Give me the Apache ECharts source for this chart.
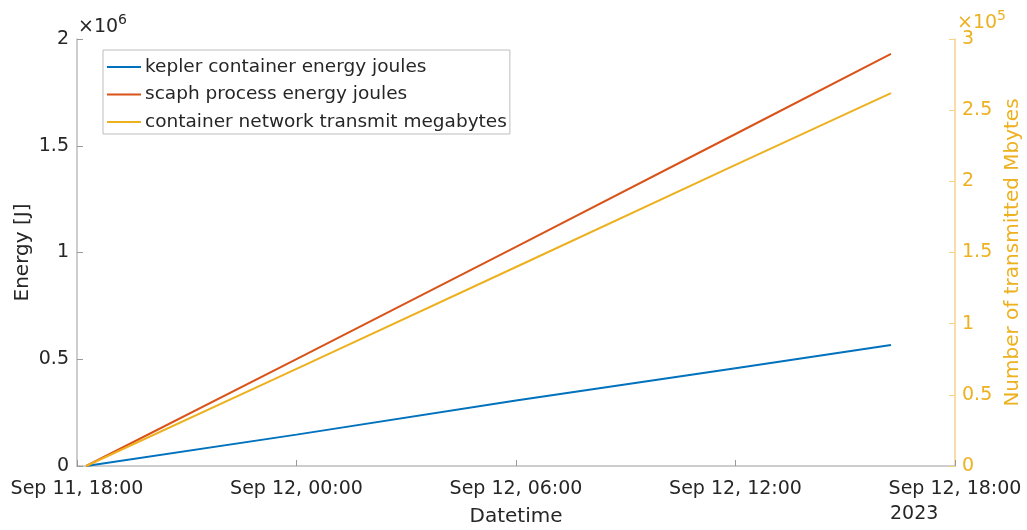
<!DOCTYPE html>
<html>
<head>
<meta charset="utf-8">
<script src="https://cdn.jsdelivr.net/npm/echarts@6/dist/echarts.min.js"></script>
<style>html,body{margin:0;padding:0;background:#fff;}#c{width:1027px;height:530px;}</style>
</head>
<body>
<div id="c"></div>
<script>
// ---- data ----
var times = ['2023-09-11T18:15', '2023-09-12T00:00', '2023-09-12T06:00', '2023-09-12T12:00', '2023-09-12T16:15'];
var keplerJoules = [0, 147000, 307000, 458000, 567000];
var scaphJoules = [0, 501000, 1026000, 1555000, 1930000];
var networkMB = [0, 68200, 139800, 211600, 262000];
var leftTicks = ['0', '0.5', '1', '1.5', '2'];
var rightTicks = ['0', '0.5', '1', '1.5', '2', '2.5', '3'];
var seriesNames = ['kepler container energy joules', 'scaph process energy joules', 'container network transmit megabytes'];

function ts(s) {
  var d = s.split('T'), a = d[0].split('-'), b = d[1].split(':');
  return Date.UTC(+a[0], +a[1] - 1, +a[2], +b[0], +b[1]);
}
var H = 3600 * 1000;
var xMin = Date.UTC(2023, 8, 11, 18, 0);
var xMax = Date.UTC(2023, 8, 12, 18, 0);
var months = ['Jan','Feb','Mar','Apr','May','Jun','Jul','Aug','Sep','Oct','Nov','Dec'];
function pad(n) { return (n < 10 ? '0' : '') + n; }
function fmt(v) {
  var d = new Date(v);
  return months[d.getUTCMonth()] + ' ' + d.getUTCDate() + ', ' + pad(d.getUTCHours()) + ':' + pad(d.getUTCMinutes());
}
function pairs(vals) { return times.map(function (t, i) { return [ts(t), vals[i]]; }); }

var FONT = 'DejaVu Sans';
var TXT = '#262626';
var GRAY = '#bdbdbd';
var YEL = '#EDB120';
var YEL_LINE = '#f4d389';

var chart = echarts.init(document.getElementById('c'), null, { renderer: 'canvas' });
chart.setOption({
  animation: false,
  backgroundColor: '#ffffff',
  textStyle: { fontFamily: FONT },
  grid: { left: 77, right: 72, top: 39, bottom: 64, containLabel: false, outerBoundsMode: 'none' },
  legend: {
    orient: 'vertical',
    left: 103, top: 50,
    padding: [7, 3, 2, 4],
    itemGap: 7.5,
    itemWidth: 34, itemHeight: 2,
    icon: 'rect',
    backgroundColor: '#ffffff',
    borderColor: '#bdbdbd', borderWidth: 1, borderRadius: 0,
    textStyle: { fontFamily: FONT, fontSize: 18.5, color: TXT, lineHeight: 20, padding: [0, 0, 0, -1] },
    data: seriesNames
  },
  xAxis: {
    type: 'value',
    min: xMin, max: xMax, interval: 6 * H,
    name: 'Datetime', nameLocation: 'middle', nameGap: 41,
    nameTextStyle: { fontFamily: FONT, fontSize: 20, color: TXT },
    axisLine: { show: true, lineStyle: { color: GRAY, width: 1.5 } },
    axisTick: { show: true, inside: true, length: 6, lineStyle: { color: '#999', width: 1 } },
    axisLabel: { fontFamily: FONT, fontSize: 19, color: TXT, margin: 14, formatter: fmt, showMinLabel: true, showMaxLabel: true },
    splitLine: { show: false }
  },
  yAxis: [{
    type: 'value', min: 0, max: 2e6, interval: 5e5, position: 'left',
    name: 'Energy [J]', nameLocation: 'middle', nameGap: 44, nameMoveOverlap: false,
    nameTextStyle: { fontFamily: FONT, fontSize: 20, color: TXT },
    axisLine: { show: true, lineStyle: { color: GRAY, width: 1.5 } },
    axisTick: { show: true, inside: true, length: 6, lineStyle: { color: '#999', width: 1 } },
    axisLabel: { fontFamily: FONT, fontSize: 19, color: TXT, margin: 8, formatter: function (v, i) { return leftTicks[i]; } },
    splitLine: { show: false }
  }, {
    type: 'value', min: 0, max: 3e5, interval: 5e4, position: 'right',
    name: 'Number of transmitted Mbytes', nameLocation: 'middle', nameGap: 45,
    nameTextStyle: { fontFamily: FONT, fontSize: 20, color: YEL },
    axisLine: { show: true, lineStyle: { color: YEL_LINE, width: 1.5 } },
    axisTick: { show: true, inside: true, length: 6, lineStyle: { color: YEL_LINE, width: 1 } },
    axisLabel: { fontFamily: FONT, fontSize: 19, color: YEL, margin: 7, formatter: function (v, i) { return rightTicks[i]; } },
    splitLine: { show: false }
  }],
  series: [{
    name: seriesNames[0], type: 'line', yAxisIndex: 0, data: pairs(keplerJoules),
    showSymbol: false, symbol: 'none', color: '#0072BD', lineStyle: { width: 2, color: '#0072BD' }
  }, {
    name: seriesNames[1], type: 'line', yAxisIndex: 0, data: pairs(scaphJoules),
    showSymbol: false, symbol: 'none', color: '#D95319', lineStyle: { width: 2, color: '#D95319' }
  }, {
    name: seriesNames[2], type: 'line', yAxisIndex: 1, data: pairs(networkMB),
    showSymbol: false, symbol: 'none', color: '#EDB120', lineStyle: { width: 2, color: '#EDB120' }
  }],
  graphic: [{
    type: 'text', left: 78, top: 13,
    style: {
      text: '{a|×10}{b|6}', fill: TXT,
      rich: {
        a: { fontFamily: FONT, fontSize: 19, fill: TXT, verticalAlign: 'bottom', lineHeight: 24 },
        b: { fontFamily: FONT, fontSize: 14, fill: TXT, verticalAlign: 'top', lineHeight: 24, padding: [0, 0, 10, 0] }
      }
    }
  }, {
    type: 'text', left: 957, top: 9,
    style: {
      text: '{a|×10}{b|5}', fill: YEL,
      rich: {
        a: { fontFamily: FONT, fontSize: 19, fill: YEL, verticalAlign: 'bottom', lineHeight: 24 },
        b: { fontFamily: FONT, fontSize: 14, fill: YEL, verticalAlign: 'top', lineHeight: 24, padding: [0, 0, 10, 0] }
      }
    }
  }, {
    type: 'text', left: 890, top: 505,
    style: { text: '2023', fontFamily: FONT, fontSize: 19, fill: TXT }
  }]
});
</script>
</body>
</html>
